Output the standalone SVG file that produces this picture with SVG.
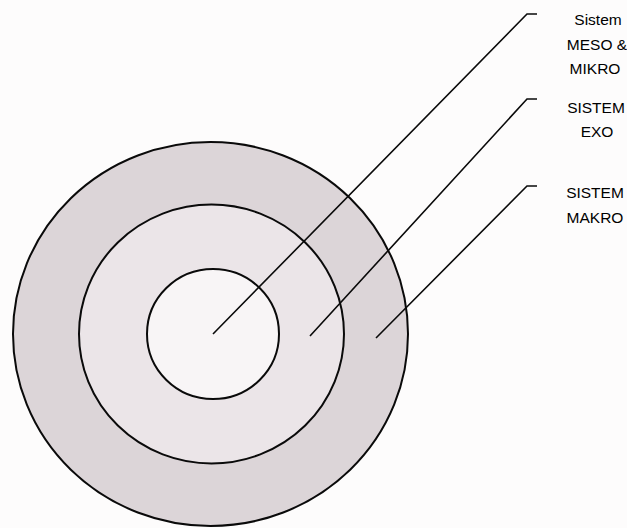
<svg xmlns="http://www.w3.org/2000/svg" width="627" height="528" viewBox="0 0 627 528">
<style>
.ring{stroke:#0a0a0a;stroke-width:2}
.lead{fill:none;stroke:#0a0a0a;stroke-width:1.6;stroke-linejoin:miter}
.lbl{font-family:"Liberation Sans",Arial,sans-serif;font-size:15.5px;fill:#000;text-anchor:middle}
</style>
<rect width="627" height="528" fill="#fdfcfc"/>
<g id="ring-makro">
<ellipse class="ring" cx="210.5" cy="334" rx="197.5" ry="192" fill="#dcd5d8"/>
</g>
<g id="ring-exo">
<ellipse class="ring" cx="211.5" cy="334" rx="132.5" ry="129.5" fill="#ebe5e8"/>
</g>
<g id="ring-meso-mikro">
<ellipse class="ring" cx="213" cy="334" rx="66" ry="65" fill="#f8f5f6"/>
</g>
<g id="connectors">
<polyline class="lead" points="213,334 527,14 537,14"/>
<polyline class="lead" points="310,336 527,99 537,99"/>
<polyline class="lead" points="376,338 527,186 537,186"/>
</g>
<g id="label-meso-mikro">
<text class="lbl" x="598" y="25">Sistem</text>
<text class="lbl" x="597" y="49.5">MESO &amp;</text>
<text class="lbl" x="595" y="74">MIKRO</text>
</g>
<g id="label-exo">
<text class="lbl" x="596" y="113">SISTEM</text>
<text class="lbl" x="597" y="137">EXO</text>
</g>
<g id="label-makro">
<text class="lbl" x="595" y="198">SISTEM</text>
<text class="lbl" x="595" y="223">MAKRO</text>
</g>
</svg>
